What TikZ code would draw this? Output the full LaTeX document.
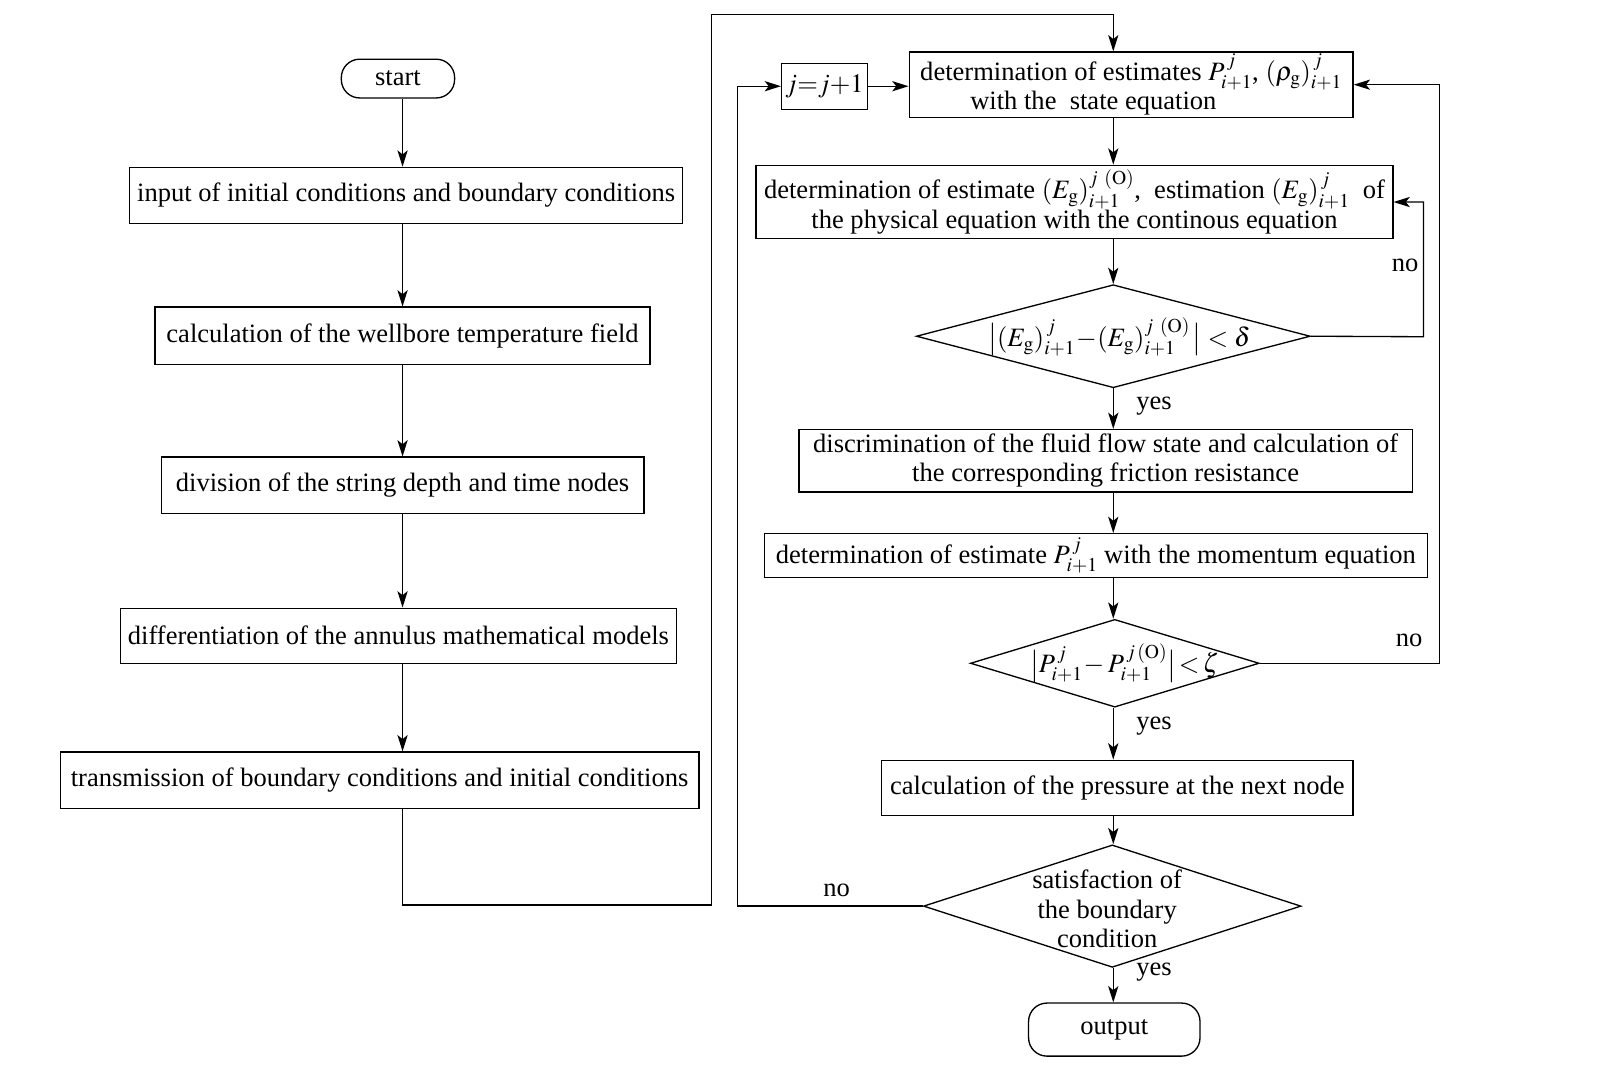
\documentclass[tikz,border=0pt]{standalone}
\usepackage{mathptmx}
\usepackage[no-math]{fontspec}
\setmainfont{Liberation Serif}
\usetikzlibrary{arrows.meta,shapes.geometric,calc}
\begin{document}
\begin{tikzpicture}[x=1pt,y=-1pt,
  font=\fontsize{26}{29}\selectfont,
  every node/.style={inner sep=0pt},
  line width=1.3pt,
  boxx/.style={draw,rectangle,align=center},
  term/.style={draw,rectangle,rounded corners=18pt,align=center},
  dia/.style={draw,diamond,inner sep=0pt},
  arr/.style={-{Stealth[length=16pt,width=10pt,inset=4pt]}},
  lbl/.style={font=\fontsize{26}{29}\selectfont}]
\useasboundingbox (0,0) rectangle (1568,1050.6);
% left column
\node[term,minimum width=111pt,minimum height=38pt] (start) at (390,77) {start};
\node[boxx,minimum width=542pt,minimum height=55pt] (b1) at (398,191.5) {input of initial conditions and boundary conditions};
\node[boxx,minimum width=485pt,minimum height=56pt] (b2) at (394.5,329) {calculation of the wellbore temperature field};
\node[boxx,minimum width=473pt,minimum height=55pt] (b3) at (394.5,475.5) {division of the string depth and time nodes};
\node[boxx,minimum width=545pt,minimum height=54pt] (b4) at (390.5,623) {differentiation of the annulus mathematical models};
\node[boxx,minimum width=626pt,minimum height=55pt] (b5) at (372,764.5) {transmission of boundary conditions and initial conditions};
% right column
\node[boxx,minimum width=84pt,minimum height=45pt] (jb) at (808,84.5) {$j{=}j{+}1$};
\node[boxx,minimum width=435pt,minimum height=64pt] (b6) at (1108.5,83) {determination of estimates $P^{\,j}_{i+1}$, $(\rho_{\mathrm g})^{\,j}_{i+1}$\\with the\ \ state equation\hspace*{74pt}};
\node[boxx,minimum width=624pt,minimum height=72pt] (b7) at (1053,198) {determination of estimate $(E_{\mathrm g})^{j\ (\mathrm{O})}_{i+1}$,\ \ estimation $(E_{\mathrm g})^{\,j}_{i+1}$\ \ of\\the physical equation with the continous equation};
\node[dia,minimum width=386pt,minimum height=101pt] (d1) at (1091,329.5) {};
\node (d1t) at (1097,330) {$\bigl|(E_{\mathrm g})^{\,j}_{i+1}\!-\!(E_{\mathrm g})^{j\ (\mathrm{O})}_{i+1}\,\bigr|<\delta$};
\node[boxx,minimum width=601pt,minimum height=61pt] (b8) at (1083.5,451.5) {discrimination of the fluid flow state and calculation of\\the corresponding friction resistance};
\node[boxx,minimum width=650pt,minimum height=43pt] (b9) at (1074,544.5) {determination of estimate $P^{\,j}_{i+1}$ with the momentum equation};
\node[dia,minimum width=283pt,minimum height=86pt] (d2) at (1092.5,650) {};
\node (d2t) at (1102,650) {$\bigl|P^{\,j}_{i+1}\!-P^{\,j\,(\mathrm{O})}_{i+1}\bigr|\!<\!\zeta$};
\node[boxx,minimum width=462pt,minimum height=54pt] (b10) at (1095,772) {calculation of the pressure at the next node};
\node[dia,minimum width=370pt,minimum height=120pt] (d3) at (1090,888) {};
\node[align=center] (d3t) at (1085,891) {satisfaction of\\the boundary\\condition};
\node[term,minimum width=168pt,minimum height=52pt] (out) at (1092,1009) {output};
% labels
\node[lbl] (n1) at (1377,260) {no};
\node[lbl] (y1) at (1131,398) {yes};
\node[lbl] (n2) at (1381,628) {no};
\node[lbl] (y2) at (1131,712) {yes};
\node[lbl] (n3) at (820,873) {no};
\node[lbl] (y3) at (1131,953) {yes};
% helper coordinates
\coordinate (k1) at (697,887);
\coordinate (k2) at (697,14);
\coordinate (k3) at (1395,330);
\coordinate (k4) at (1411,650);
\coordinate (k5) at (723,888);
% left connectors
\draw[arr] (start.south -| b2) -- (b1.north -| b2);
\draw[arr] (b1.south -| b2) -- (b2.north);
\draw[arr] (b2.south) -- (b3.north -| b2);
\draw[arr] (b3.south -| b2) -- (b4.north -| b2);
\draw[arr] (b4.south -| b2) -- (b5.north -| b2);
\draw[arr] (b5.south -| b2) |- (k1) -- (k2) -| (b6.north -| d1);
% right connectors
\draw[arr] (jb.east) -- (jb.east -| b6.west);
\draw[arr] (b6.south -| d1) -- (b7.north -| d1);
\draw[arr] (b7.south -| d1) -- (d1.north);
\draw[arr] (d1.south) -- (b8.north -| d1);
\draw[arr] (b8.south -| d1) -- (b9.north -| d1);
\draw[arr] (b9.south -| d1) -- (d2.north -| d1);
\draw[arr] (d2.south -| d1) -- (b10.north -| d1);
\draw[arr] (b10.south -| d1) -- (d3.north -| d1);
\draw[arr] (d3.south -| d1) -- (out.north -| d1);
\draw[arr] (d1.east) -- (k3) |- (b7.east);
\draw[arr] (d2.east) -- (k4) |- (b6.east);
\draw[arr] (d3.west) -- (k5) |- (jb.west);
\end{tikzpicture}
\end{document}
